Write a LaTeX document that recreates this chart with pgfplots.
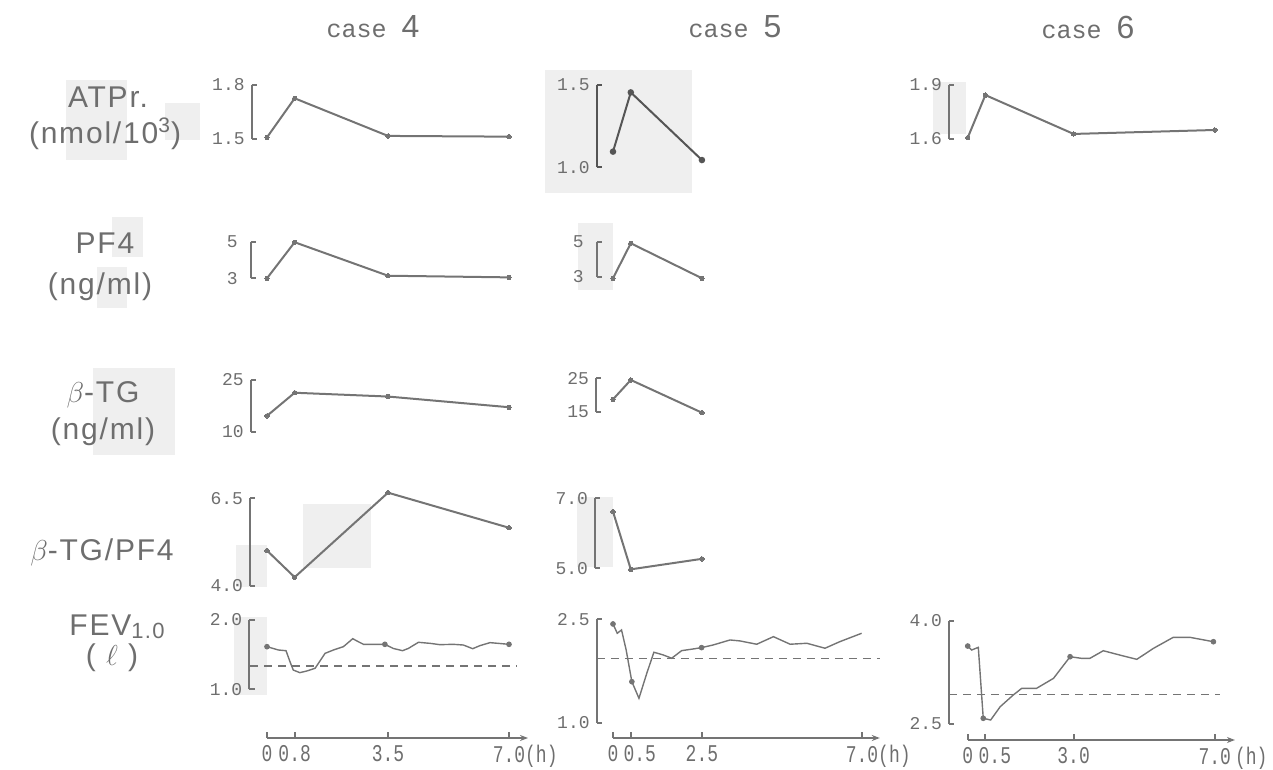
\documentclass[border=0pt]{standalone}
\usepackage{fontspec}
\usepackage{pgfplots}
\pgfplotsset{compat=1.18}
\usetikzlibrary{arrows.meta}
\setmainfont{Liberation Sans}
\newfontfamily\labfamily[LetterSpace=6]{Liberation Sans}
\newfontfamily\monofamily{Liberation Mono}
\newfontfamily\tallmono[FakeStretch=0.75]{Liberation Mono}

\definecolor{ink}{HTML}{747474}
\definecolor{inkdark}{HTML}{555555}
\definecolor{txt}{HTML}{6E6E6E}
\definecolor{paper}{HTML}{EFEFEF}

\newcommand\lab{\labfamily\fontsize{15}{17}\selectfont}
\newcommand\ytk{\monofamily\fontsize{9}{10}\selectfont}
\newcommand\xtk{\tallmono\fontsize{12}{13}\selectfont}

% helpers working in a 1273 x 770 grid (1 unit = 0.5pt, y measured from the top)
\newcommand\paperbox[4]{\fill[paper] ({#1*0.5pt},{(770-#2)*0.5pt}) rectangle ({#3*0.5pt},{(770-#4)*0.5pt});}
\newcommand\rowlabel[3]{\node[text=txt, inner sep=0pt] at ({#1*0.5pt},{(770-#2)*0.5pt}) {\lab #3};}
\newcommand\casehead[3]{\node[text=txt, inner sep=0pt] at ({#1*0.5pt},{(770-#2)*0.5pt}) {{\monofamily\fontsize{12.5}{14}\selectfont case }{\fontsize{16}{18}\selectfont #3}};}

\pgfplotsset{
  panel/.style={
    anchor=south west, clip=false,
    axis y line=left, axis x line=none,
    axis line style={draw=ink, line width=0.9pt, -},
    ytick align=inside, major tick length=2.6pt,
    tick style={draw=ink, line width=0.9pt},
    yticklabel style={font=\ytk, text=txt},
    xmax=7.2,
  },
  c4/.style={x=17.285pt},
  c5/.style={x=17.785pt},
  c6/.style={x=17.65pt},
  trace/.style={draw=ink, line width=1pt, mark=*, mark size=1.1pt,
    mark options={fill=ink, draw=ink, line width=0pt}},
  fev/.style={draw=ink, line width=0.7pt},
  dot/.style={only marks, mark=*, mark size=1.2pt, draw=ink, fill=ink},
  baseline/.style={draw=ink, line width=0.6pt, dash pattern=on 4pt off 3pt},
  timeaxis/.style={
    anchor=south west, axis x line=bottom, axis y line=none,
    ymin=0, ymax=1, y=1pt, xmin=0,
    x axis line style={draw=ink, line width=0.9pt, -{Stealth[length=4pt,width=3pt]}},
    xtick align=inside, major tick length=3pt,
    tick style={draw=ink, line width=0.9pt},
    xticklabel style={font=\xtk, text=txt},
  },
}

\begin{document}
\begin{tikzpicture}
\path[use as bounding box] (0,0) rectangle (636.5pt,385pt);

% light paper patches
\paperbox{66}{80}{127}{160}
\paperbox{165}{103}{200}{140}
\paperbox{112}{217}{143}{257}
\paperbox{97}{267}{127}{308}
\paperbox{93}{368}{175}{455}
\paperbox{236}{545}{267}{587}
\paperbox{303}{504}{371}{568}
\paperbox{234}{617}{267}{695}
\paperbox{545}{70}{692}{193}
\paperbox{578}{223}{613}{290}
\paperbox{577}{497}{613}{567}
\paperbox{933}{82}{966}{134}

% column heads
\casehead{373}{27}{4}
\casehead{735}{27}{5}
\casehead{1088}{27}{6}

% row labels
\rowlabel{108}{97}{ATPr.}
\rowlabel{105}{134}{(nmol/10\textsuperscript{3})}
\rowlabel{105}{243}{PF4}
\rowlabel{100}{287}{(ng/ml)}
\rowlabel{103}{395}{$\beta$-TG}
\rowlabel{103}{432}{(ng/ml)}
\rowlabel{102}{552}{$\beta$-TG/PF4}
\rowlabel{117}{627}{FEV\raisebox{-1.5pt}{\fontsize{11}{12}\selectfont 1.0}}
\rowlabel{112}{658}{( $\ell$ )}

% ---------- ATP release ----------
\begin{axis}[panel, c4, at={(125.85pt,315.5pt)}, xmin=-0.4426,
  ymin=1.5, ymax=1.8, y=90pt, ytick={1.5,1.8}, yticklabels={1.5,1.8}]
\addplot[trace] coordinates {(0,1.509) (0.8,1.726) (3.5,1.517) (7,1.513)};
\end{axis}
\begin{axis}[panel, c5, at={(298.35pt,301.35pt)}, xmin=-0.458,
  ymin=1.0, ymax=1.5, y=82.3pt, ytick={1.0,1.5}, yticklabels={1.0,1.5},
  axis line style={draw=inkdark}, tick style={draw=inkdark}]
\addplot[trace, draw=inkdark, mark options={fill=inkdark, draw=inkdark}]
  coordinates {(0,1.095) (0.5,1.455) (2.5,1.044)};
\end{axis}
\begin{axis}[panel, c6, at={(474.5pt,315.5pt)}, xmin=-0.53,
  ymin=1.6, ymax=1.9, y=90pt, ytick={1.6,1.9}, yticklabels={1.6,1.9}]
\addplot[trace] coordinates {(0,1.607) (0.5,1.844) (3.0,1.628) (7,1.65)};
\end{axis}

% ---------- PF4 ----------
\begin{axis}[panel, c4, at={(125.35pt,245.85pt)}, xmin=-0.4715,
  ymin=3, ymax=5, y=9.15pt, ytick={3,5}, yticklabels={3,5},
  yticklabel style={xshift=-3pt}]
\addplot[trace] coordinates {(0,3.0) (0.8,4.97) (3.5,3.14) (7,3.05)};
\end{axis}
\begin{axis}[panel, c5, at={(298.35pt,246.65pt)}, xmin=-0.458,
  ymin=3, ymax=5, y=8.75pt, ytick={3,5}, yticklabels={3,5},
  yticklabel style={xshift=-3pt}]
\addplot[trace] coordinates {(0,2.91) (0.5,4.91) (2.5,2.91)};
\end{axis}

% ---------- beta-TG ----------
\begin{axis}[panel, c4, at={(125.35pt,169.15pt)}, xmin=-0.4715,
  ymin=10, ymax=25, y=1.7233pt, ytick={10,25}, yticklabels={10,25}]
\addplot[trace] coordinates {(0,14.6) (0.8,21.3) (3.5,20.2) (7,17.1)};
\end{axis}
\begin{axis}[panel, c5, at={(298pt,179.15pt)}, xmin=-0.478,
  ymin=15, ymax=25, y=1.67pt, ytick={15,25}, yticklabels={15,25}]
\addplot[trace] coordinates {(0,18.7) (0.5,24.5) (2.5,14.7)};
\end{axis}

% ---------- beta-TG / PF4 ----------
\begin{axis}[panel, c4, at={(125pt,92pt)}, xmin=-0.4918,
  ymin=4.0, ymax=6.5, y=17.54pt, ytick={4.0,6.5}, yticklabels={4.0,6.5}]
\addplot[trace] coordinates {(0,5.01) (0.8,4.25) (3.5,6.66) (7,5.66)};
\end{axis}
\begin{axis}[panel, c5, at={(297.5pt,100.85pt)}, xmin=-0.506,
  ymin=5.0, ymax=7.0, y=17.5pt, ytick={5.0,7.0}, yticklabels={5.0,7.0}]
\addplot[trace] coordinates {(0,6.62) (0.5,4.97) (2.5,5.27)};
\end{axis}

% ---------- FEV1.0 ----------
\begin{axis}[panel, c4, at={(124.65pt,40.35pt)}, xmin=-0.512,
  ymin=1.0, ymax=2.0, y=34.65pt, ytick={1.0,2.0}, yticklabels={1.0,2.0}]
\addplot[baseline] coordinates {(-0.49,1.336) (7.22,1.336)};
\addplot[fev] coordinates {(0,1.615) (0.33,1.567) (0.55,1.557) (0.665,1.398)
  (0.76,1.278) (0.95,1.24) (1.15,1.264) (1.39,1.303) (1.68,1.519) (1.92,1.567)
  (2.21,1.615) (2.48,1.73) (2.64,1.687) (2.79,1.649) (3.08,1.649) (3.41,1.649)
  (3.65,1.59) (3.92,1.557) (4.09,1.59) (4.38,1.678) (4.72,1.663) (5.0,1.644)
  (5.39,1.649) (5.68,1.639) (5.95,1.586) (6.16,1.63) (6.45,1.673) (6.69,1.663)
  (7.0,1.649)};
\addplot[dot] coordinates {(0,1.615) (3.41,1.649) (7.0,1.649)};
\end{axis}
\begin{axis}[panel, c5, at={(298.35pt,23.65pt)}, xmin=-0.458,
  ymin=1.0, ymax=2.5, y=34.47pt, ytick={1.0,2.5}, yticklabels={1.0,2.5}]
\addplot[baseline] coordinates {(-0.45,1.935) (7.5,1.935)};
\addplot[fev] coordinates {(0,2.432) (0.12,2.297) (0.24,2.345) (0.37,2.055)
  (0.53,1.595) (0.73,1.354) (0.95,1.717) (1.15,2.022) (1.41,1.983) (1.65,1.935)
  (1.93,2.045) (2.26,2.07) (2.49,2.089) (2.82,2.128) (3.29,2.2) (3.57,2.186)
  (4.04,2.138) (4.51,2.248) (4.98,2.138) (5.45,2.152) (5.96,2.08) (6.38,2.176)
  (6.99,2.297)};
\addplot[dot] coordinates {(0,2.432) (0.53,1.595) (2.49,2.089)};
\end{axis}
\begin{axis}[panel, c6, at={(474.5pt,23pt)}, xmin=-0.53,
  ymin=2.5, ymax=4.0, y=34.43pt, ytick={2.5,4.0}, yticklabels={2.5,4.0}]
\addplot[baseline] coordinates {(-0.53,2.931) (7.15,2.931)};
\addplot[fev] coordinates {(0,3.632) (0.11,3.574) (0.30,3.613) (0.44,2.583)
  (0.65,2.558) (0.92,2.751) (1.29,2.921) (1.53,3.018) (1.95,3.018) (2.43,3.163)
  (2.90,3.477) (3.23,3.453) (3.46,3.453) (3.84,3.564) (4.31,3.501) (4.79,3.439)
  (5.26,3.598) (5.82,3.758) (6.30,3.758) (6.96,3.695)};
\addplot[dot] coordinates {(0,3.632) (0.44,2.583) (2.90,3.477) (6.96,3.695)};
\end{axis}

% ---------- time axes ----------
\begin{axis}[timeaxis, c4, at={(133.5pt,16pt)}, xmax=7.55,
  xtick={0,0.8,3.5,7}, xticklabels={0,0.8,3.5,7.0\rlap{(h)}}]
\end{axis}
\begin{axis}[timeaxis, c5, at={(306.5pt,16pt)}, xmax=7.5,
  xtick={0,0.5,2.5,7}, xticklabels={0,\hspace*{9pt}0.5,2.5,7.0\rlap{(h)}}]
\end{axis}
\begin{axis}[timeaxis, c6, at={(483.85pt,15pt)}, xmax=7.57,
  xtick={0,0.5,3,7}, xticklabels={0,\hspace*{9.5pt}0.5,3.0,7.0\rlap{\,(h)}}]
\end{axis}
\end{tikzpicture}
\end{document}
